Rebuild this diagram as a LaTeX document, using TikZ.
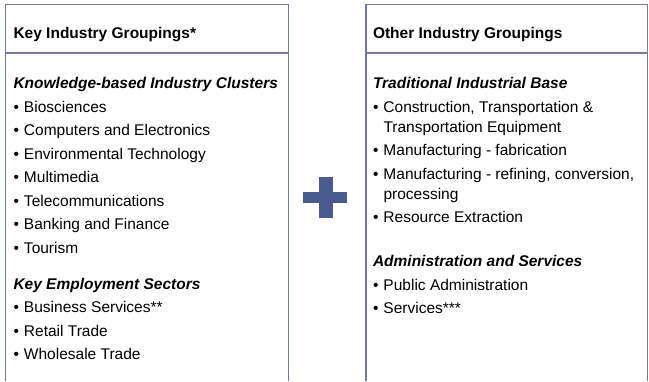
\documentclass[tikz,border=0pt]{standalone}
\usepackage{fontspec}
\setmainfont{Liberation Sans}
\definecolor{boxline}{RGB}{112,121,168}
\definecolor{plusblue}{RGB}{74,91,145}
\newcommand{\bul}{\makebox[10.5pt][l]{•}}
\newcommand{\gap}{\hspace*{10.5pt}}
\begin{document}
\begin{tikzpicture}[x=1pt, y=-1pt,
  txt/.style={inner sep=0pt, outer sep=0pt, text height=16pt, text depth=7.5pt, font=\fontsize{15.5}{20}\selectfont},
  title/.style={txt, anchor=base west, font=\fontsize{15.5}{20}\selectfont\bfseries},
  group/.style={txt, anchor=base west, font=\fontsize{15.5}{20}\selectfont\bfseries\itshape},
  item/.style={txt, below right},
  cont/.style={txt, below right, text height=12.5pt},
  frame/.style={draw=boxline, line width=1.2pt}]
\useasboundingbox (0,0) rectangle (649,381);
% left box
\draw[frame] (5.5,381) -- (5.5,4.5) -- (288.5,4.5) -- (288.5,381);
\draw[frame] (5.5,53) -- (288.5,53);
% right box
\draw[frame] (366,381) -- (366,4.5) -- (647.8,4.5) -- (647.8,381);
\draw[frame] (366,53) -- (647.8,53);
% plus sign
\fill[plusblue] (319,177) rectangle (333,218);
\fill[plusblue] (303,192) rectangle (347,203);

\node[title] (lhead) at (13.5,38.5) {Key Industry Groupings*};
\node[group] (kbic) at (13.5,88.5) {Knowledge-based Industry Clusters};
\node[item] (bio) at (kbic.south west) {\bul Biosciences};
\node[item] (comp) at (bio.south west) {\bul Computers and Electronics};
\node[item] (env) at (comp.south west) {\bul Environmental Technology};
\node[item] (mm) at (env.south west) {\bul Multimedia};
\node[item] (tel) at (mm.south west) {\bul Telecommunications};
\node[item] (bank) at (tel.south west) {\bul Banking and Finance};
\node[item] (tour) at (bank.south west) {\bul Tourism};
\node[group] (kes) at (13.5,289) {Key Employment Sectors};
\node[item] (bus) at (kes.south west) {\bul Business Services**};
\node[item] (ret) at (bus.south west) {\bul Retail Trade};
\node[item] (whs) at (ret.south west) {\bul Wholesale Trade};

\node[title] (rhead) at (373,38.5) {Other Industry Groupings};
\node[group] (tib) at (373,88.5) {Traditional Industrial Base};
\node[item] (con) at (tib.south west) {\bul Construction, Transportation \&};
\node[cont] (con2) at (con.south west) {\gap Transportation Equipment};
\node[item] (fab) at (con2.south west) {\bul Manufacturing - fabrication};
\node[item] (ref) at (fab.south west) {\bul Manufacturing - refining, conversion,};
\node[cont] (ref2) at (ref.south west) {\gap processing};
\node[item] (res) at (ref2.south west) {\bul Resource Extraction};
\node[group] (adm) at (373,266.5) {Administration and Services};
\node[item] (pub) at (adm.south west) {\bul Public Administration};
\node[item] (srv) at (pub.south west) {\bul Services***};
\end{tikzpicture}
\end{document}
